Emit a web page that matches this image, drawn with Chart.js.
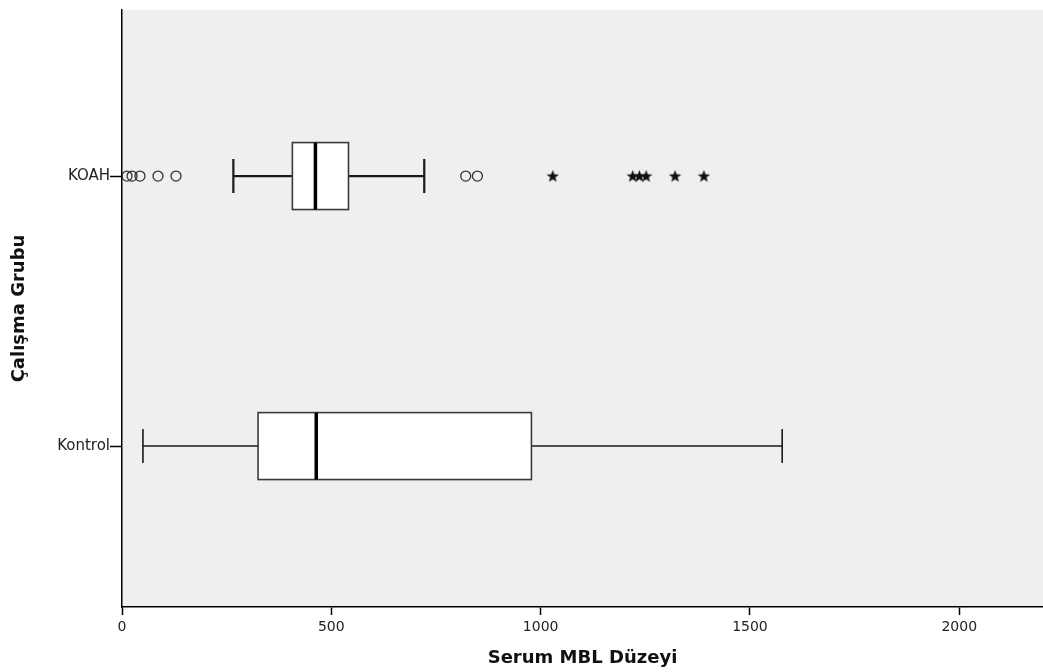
<!DOCTYPE html>
<html>
<head>
<meta charset="utf-8">
<script src="https://cdn.jsdelivr.net/npm/chart.js@4/dist/chart.umd.min.js"></script>
<style>
    body { margin: 0; background: #fff; }
    #wrap { width: 1043px; height: 672px; }
</style>
</head>
<body>
<div id="wrap"><canvas id="boxChart"></canvas></div>
<script>
// values
const categories = ['KOAH', 'Kontrol'];
const categoryPos = [1, 0];
const whiskerLow = [266, 50];
const q1 = [407, 325];
const median = [462, 464];
const q3 = [541, 978];
const whiskerHigh = [722, 1577];

// KOAH outliers: o = mild, * = extreme
const koahCircles = [12, 24, 43, 86, 129, 821, 849];
const koahStars = [1029, 1220, 1236, 1252, 1321, 1390];

const xTicks = [0, 500, 1000, 1500, 2000];

function makeStar(size) {
    let c = document.createElement('canvas');
    c.width = size;
    c.height = size;
    let ctx = c.getContext('2d');
    let cx = size / 2, cy = size / 2 + 0.5, R = size / 2, r = R * 0.42;
    ctx.beginPath();
    for (let i = 0; i < 10; i++) {
        let rad = i % 2 === 0 ? R : r;
        let a = -Math.PI / 2 + i * Math.PI / 5;
        ctx.lineTo(cx + rad * Math.cos(a), cy + rad * Math.sin(a));
    }
    ctx.closePath();
    ctx.fillStyle = '#111';
    ctx.fill();
    return c;
}

const boxPlugin = {
    id: 'boxPlugin',
    beforeDatasetsDraw(chart) {
        let ctx = chart.ctx;
        let xs = chart.scales.x, ys = chart.scales.y;
        ctx.save();
        categories.forEach((cat, i) => {
            let yc = ys.getPixelForValue(categoryPos[i]);
            let yTop = ys.getPixelForValue(categoryPos[i] + 0.124);
            let yBot = ys.getPixelForValue(categoryPos[i] - 0.124);
            let capTop = ys.getPixelForValue(categoryPos[i] + 0.063);
            let capBot = ys.getPixelForValue(categoryPos[i] - 0.063);
            let lw = i === 0 ? 2.2 : 1.6;
            let xl = xs.getPixelForValue(whiskerLow[i]);
            let x1 = xs.getPixelForValue(q1[i]);
            let xm = xs.getPixelForValue(median[i]);
            let x3 = xs.getPixelForValue(q3[i]);
            let xh = xs.getPixelForValue(whiskerHigh[i]);

            ctx.strokeStyle = '#1a1a1a';
            ctx.lineWidth = lw;
            // whiskers
            ctx.beginPath();
            ctx.moveTo(xl, yc); ctx.lineTo(x1, yc);
            ctx.moveTo(x3, yc); ctx.lineTo(xh, yc);
            ctx.moveTo(xl, capTop); ctx.lineTo(xl, capBot);
            ctx.moveTo(xh, capTop); ctx.lineTo(xh, capBot);
            ctx.stroke();

            // box
            ctx.fillStyle = '#ffffff';
            ctx.fillRect(x1, yTop, x3 - x1, yBot - yTop);
            ctx.strokeStyle = '#3a3a3a';
            ctx.lineWidth = 1.6;
            ctx.strokeRect(x1, yTop, x3 - x1, yBot - yTop);

            // median
            ctx.strokeStyle = '#000';
            ctx.lineWidth = 3.5;
            ctx.beginPath();
            ctx.moveTo(xm, yTop); ctx.lineTo(xm, yBot);
            ctx.stroke();
        });
        ctx.restore();
    }
};

const bgPlugin = {
    id: 'bgPlugin',
    beforeDraw(chart) {
        let a = chart.chartArea;
        chart.ctx.save();
        chart.ctx.fillStyle = '#efefef';
        chart.ctx.fillRect(a.left, a.top, a.right - a.left, a.bottom - a.top);
        chart.ctx.restore();
    }
};

new Chart(document.getElementById('boxChart'), {
    type: 'scatter',
    data: {
        datasets: [
            {
                label: 'o',
                data: koahCircles.map(v => ({x: v, y: categoryPos[0]})),
                pointStyle: 'circle',
                pointRadius: 5,
                backgroundColor: 'rgba(0,0,0,0)',
                borderColor: '#333',
                borderWidth: 1.3
            },
            {
                label: '*',
                data: koahStars.map(v => ({x: v, y: categoryPos[0]})),
                pointStyle: makeStar(13),
                pointRadius: 6
            }
        ]
    },
    options: {
        responsive: true,
        maintainAspectRatio: false,
        animation: false,
        layout: { padding: { top: 10, right: 0, left: 0, bottom: 0 }, autoPadding: false },
        plugins: {
            legend: { display: false },
            tooltip: { enabled: false }
        },
        scales: {
            x: {
                type: 'linear',
                min: 0,
                max: 2200,
                afterBuildTicks: s => { s.ticks = xTicks.map(v => ({value: v})); },
                afterFit: s => { s.height = 65; s.paddingLeft = 0; s.paddingRight = 0; },
                border: { color: '#000', width: 1.5 },
                grid: { drawOnChartArea: false, drawTicks: true, tickLength: 8, color: '#000', tickWidth: 1.5 },
                ticks: {
                    color: '#222',
                    padding: 4,
                    callback: v => String(v),
                    font: { family: "'DejaVu Sans', Verdana", size: 14 }
                },
                title: {
                    display: true,
                    text: 'Serum MBL Düzeyi',
                    color: '#111',
                    padding: { top: 0, bottom: 3 },
                    font: { family: "'DejaVu Sans', Verdana", size: 18, weight: 'bold' }
                }
            },
            y: {
                type: 'linear',
                min: -0.596,
                max: 1.615,
                afterBuildTicks: s => { s.ticks = categoryPos.map(v => ({value: v})); },
                afterFit: s => { s.width = 122; s.paddingTop = 0; s.paddingBottom = 0; },
                border: { color: '#000', width: 1.5 },
                grid: { drawOnChartArea: false, drawTicks: true, tickLength: 12, color: '#000', tickWidth: 1.5 },
                ticks: {
                    color: '#222',
                    padding: 0,
                    callback: v => categories[categoryPos.indexOf(v)],
                    font: { family: "'DejaVu Sans', Verdana", size: 15 }
                },
                title: {
                    display: true,
                    text: 'Çalışma Grubu',
                    color: '#111',
                    padding: { top: 9, bottom: 0 },
                    font: { family: "'DejaVu Sans', Verdana", size: 18, weight: 'bold' }
                }
            }
        }
    },
    plugins: [bgPlugin, boxPlugin]
});
</script>
</body>
</html>
